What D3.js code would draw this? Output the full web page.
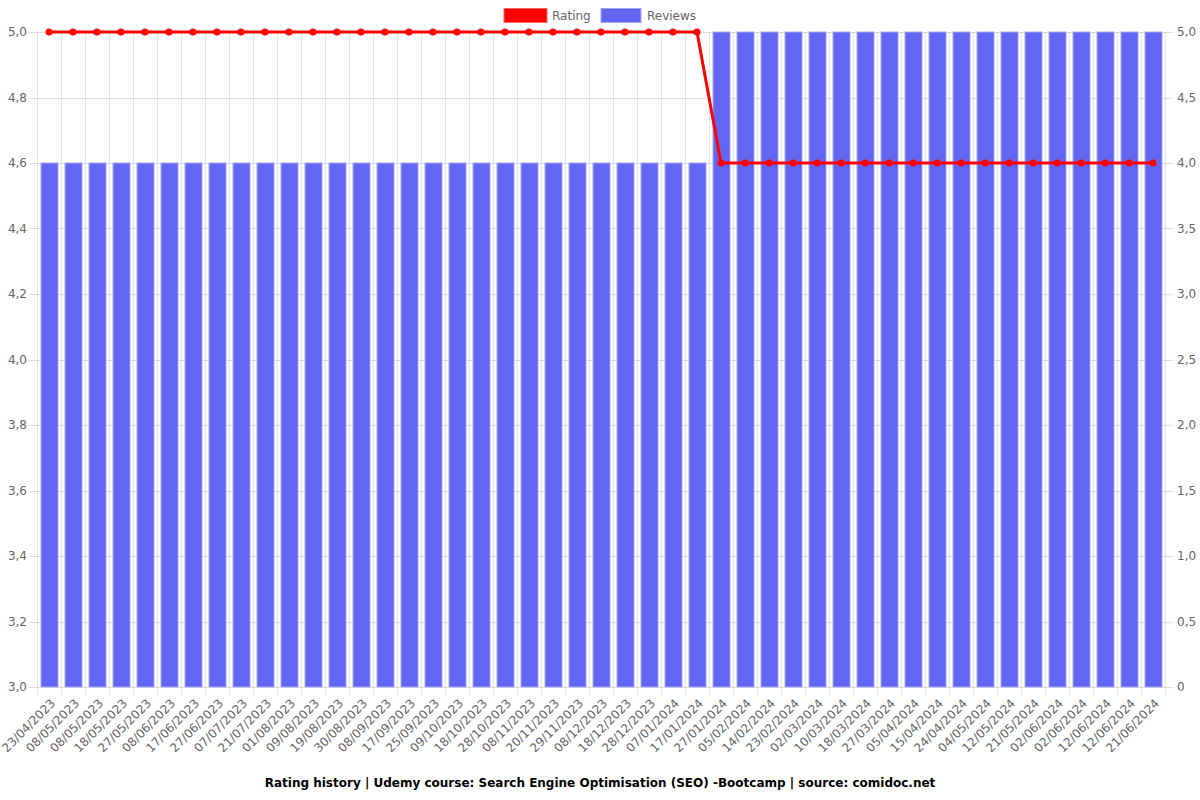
<!DOCTYPE html>
<html>
<head>
<meta charset="utf-8">
<script src="https://cdn.jsdelivr.net/npm/d3@7"></script>
<style>
  html, body { margin: 0; padding: 0; background: #fff; }
  svg { display: block; font-family: "DejaVu Sans", sans-serif; }
</style>
</head>
<body>
<svg id="chart" width="1200" height="800"></svg>
<script>
const categories = [
  "23/04/2023","08/05/2023","08/05/2023","18/05/2023","27/05/2023","08/06/2023",
  "17/06/2023","27/06/2023","07/07/2023","21/07/2023","01/08/2023","09/08/2023",
  "19/08/2023","30/08/2023","08/09/2023","17/09/2023","25/09/2023","09/10/2023",
  "18/10/2023","28/10/2023","08/11/2023","20/11/2023","29/11/2023","08/12/2023",
  "18/12/2023","28/12/2023","07/01/2024","17/01/2024","27/01/2024","05/02/2024",
  "14/02/2024","23/02/2024","02/03/2024","10/03/2024","18/03/2024","27/03/2024",
  "05/04/2024","15/04/2024","24/04/2024","04/05/2024","12/05/2024","21/05/2024",
  "02/06/2024","02/06/2024","12/06/2024","12/06/2024","21/06/2024"
];
const rating = [
  5,5,5,5,5,5,5,5,5,5,5,5,5,5,5,5,5,5,5,5,5,5,5,5,5,5,5,5,
  4.6,4.6,4.6,4.6,4.6,4.6,4.6,4.6,4.6,4.6,4.6,4.6,4.6,4.6,4.6,4.6,4.6,4.6,4.6
];
const reviews = [
  4,4,4,4,4,4,4,4,4,4,4,4,4,4,4,4,4,4,4,4,4,4,4,4,4,4,4,4,
  5,5,5,5,5,5,5,5,5,5,5,5,5,5,5,5,5,5,5
];
const leftTicks = [3.0,3.2,3.4,3.6,3.8,4.0,4.2,4.4,4.6,4.8,5.0];
const rightTicks = [0,0.5,1,1.5,2,2.5,3,3.5,4,4.5,5];
const title = "Rating history | Udemy course: Search Engine Optimisation (SEO) -Bootcamp | source: comidoc.net";

(function () {
const svg = d3.select("#chart");
const pL = 37, pR = 1165, pT = 32, pB = 687;

const x = d3.scaleBand().domain(d3.range(categories.length)).range([pL, pR]).paddingInner(0).paddingOuter(0);
const yL = d3.scaleLinear().domain([3, 5]).range([pB, pT]);
const yR = d3.scaleLinear().domain([0, 5]).range([pB, pT]);

const fmt = v => v === 0 ? "0" : d3.format(".1f")(v).replace(".", ",");

const grid = svg.append("g");
grid.selectAll("line.h").data(leftTicks).join("line")
  .attr("x1", pL - 8).attr("x2", pR + 8)
  .attr("y1", d => Math.round(yL(d)) + 0.5).attr("y2", d => Math.round(yL(d)) + 0.5)
  .attr("stroke", "rgba(0,0,0,0.13)").attr("stroke-width", 1);
const bounds = d3.range(categories.length + 1).map(i => i < categories.length ? x(i) : pR);
grid.selectAll("line.v").data(bounds).join("line")
  .attr("x1", d => Math.round(d) + 0.5).attr("x2", d => Math.round(d) + 0.5)
  .attr("y1", pT).attr("y2", pB + 8)
  .attr("stroke", "rgba(0,0,0,0.1)").attr("stroke-width", 1);

svg.append("g").selectAll("text").data(leftTicks).join("text")
  .attr("x", pL - 10).attr("y", d => yL(d)).attr("dy", "0.35em")
  .attr("text-anchor", "end").attr("font-size", 12).attr("fill", "#666")
  .text(fmt);
svg.append("g").selectAll("text").data(rightTicks).join("text")
  .attr("x", pR + 12).attr("y", d => yR(d)).attr("dy", "0.35em")
  .attr("text-anchor", "start").attr("font-size", 12).attr("fill", "#666")
  .text(fmt);

const bw = 17;
svg.append("g").selectAll("rect").data(reviews).join("rect")
  .attr("x", (d, i) => x(i) + x.bandwidth() / 2 - bw / 2 + 0.5)
  .attr("y", d => yR(d))
  .attr("width", bw)
  .attr("height", d => yR(0) - yR(d))
  .attr("fill", "#6366f1")
  .attr("stroke", "#a5a6f6").attr("stroke-width", 1);

const line = d3.line().x((d, i) => x(i) + x.bandwidth() / 2).y(d => yL(d));
svg.append("path").datum(rating).attr("d", line)
  .attr("fill", "none").attr("stroke", "#ff0000").attr("stroke-width", 3);
svg.append("g").selectAll("circle").data(rating).join("circle")
  .attr("cx", (d, i) => x(i) + x.bandwidth() / 2).attr("cy", d => yL(d))
  .attr("r", 3.5).attr("fill", "#ff0000");

svg.append("g").selectAll("text").data(categories).join("text")
  .attr("transform", (d, i) => `translate(${x(i) + x.bandwidth() / 2 + 4},${pB + 14}) rotate(-45)`)
  .attr("text-anchor", "end").attr("font-size", 12).attr("fill", "#666")
  .attr("dy", "0.35em")
  .text(d => d);

const lg = svg.append("g");
lg.append("rect").attr("x", 504).attr("y", 8.5).attr("width", 43).attr("height", 14)
  .attr("fill", "#ff0000").attr("stroke", "#ff6666").attr("stroke-width", 1);
lg.append("text").attr("x", 552).attr("y", 16).attr("dy", "0.35em")
  .attr("font-size", 12).attr("fill", "#666").text("Rating");
lg.append("rect").attr("x", 601).attr("y", 8.5).attr("width", 40).attr("height", 14)
  .attr("fill", "#6366f1").attr("stroke", "#a5a6f6").attr("stroke-width", 1);
lg.append("text").attr("x", 647).attr("y", 16).attr("dy", "0.35em")
  .attr("font-size", 12).attr("fill", "#666").text("Reviews");

svg.append("text").attr("x", 600).attr("y", 783).attr("dy", "0.35em")
  .attr("text-anchor", "middle").attr("font-size", 12).attr("font-weight", "bold")
  .attr("fill", "#000").text(title);
})();
</script>
</body>
</html>
